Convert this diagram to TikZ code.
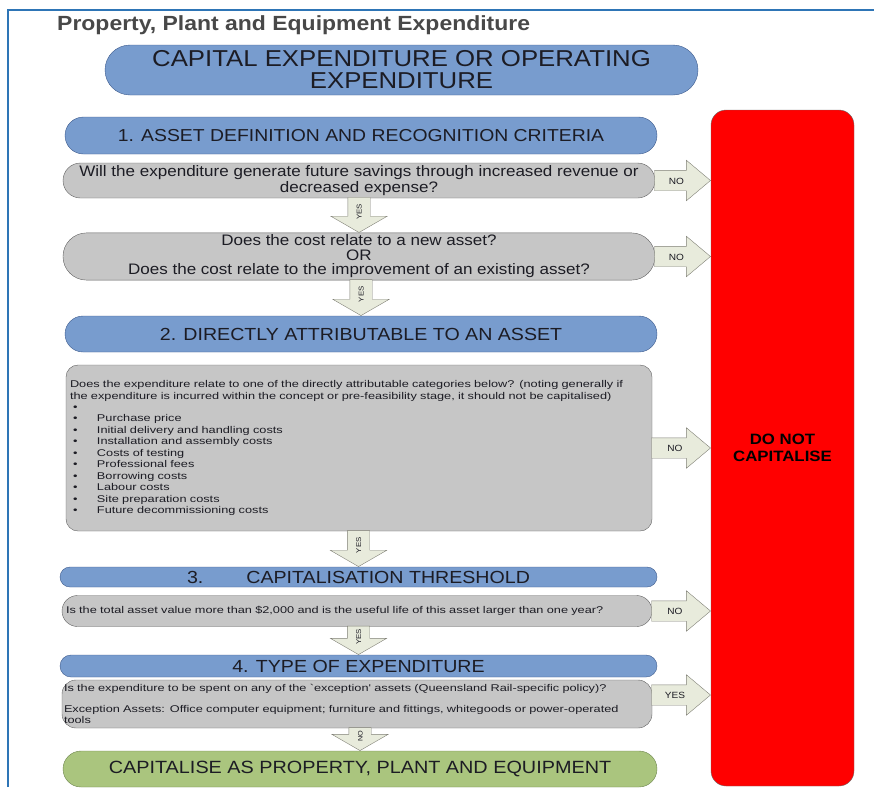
\documentclass[tikz,border=0pt]{standalone}
\usepackage{fontspec}
\setmainfont{Liberation Sans}[FakeStretch=1.12]
\newfontfamily\widefont{Liberation Sans}[FakeStretch=1.3]
\usetikzlibrary{shapes.arrows}

\definecolor{framecol}{RGB}{46,117,182}
\definecolor{titlecol}{RGB}{72,72,72}
\definecolor{inkcol}{RGB}{28,28,36}
\definecolor{capblue}{RGB}{120,156,206}
\definecolor{capedge}{RGB}{60,90,140}
\definecolor{qgrey}{RGB}{198,198,198}
\definecolor{qedge}{RGB}{96,96,96}
\definecolor{capgreen}{RGB}{170,197,126}
\definecolor{greenedge}{RGB}{108,132,78}
\definecolor{arrfill}{RGB}{232,235,220}
\definecolor{arredge}{RGB}{128,128,118}
\definecolor{stopred}{RGB}{255,0,0}
\definecolor{stopedge}{RGB}{110,110,110}

% one line of the cost list
\newcommand{\costitem}[1]{\hspace*{3pt}\makebox[24pt][l]{\textbullet}#1}

\tikzset{
  pill/.style={rectangle, rounded corners=#1, inner sep=2pt, align=center, text=inkcol},
  bluepill/.style={pill=#1, fill=capblue, draw=capedge, font=\fontsize{17.5}{20}\selectfont},
  greypill/.style={pill=#1, fill=qgrey, draw=qedge},
  greenpill/.style={pill=#1, fill=capgreen, draw=greenedge, font=\fontsize{17.7}{20}\selectfont},
  smalltext/.style={align=left, text=inkcol, font=\widefont\fontsize{9.8}{11.45}\selectfont},
  stopbox/.style={rectangle, rounded corners=15pt, fill=stopred, draw=stopedge, align=center,
    text=black, font=\bfseries\fontsize{15}{17}\selectfont},
  noarrow/.style={single arrow, draw=arredge, fill=arrfill, anchor=tip,
    single arrow head extend=10pt, single arrow tip angle=80, single arrow head indent=0pt,
    minimum width=40pt, inner xsep=1pt, inner ysep=6.5pt, text height=7pt, text depth=0pt,
    text=inkcol, font=\fontsize{9}{9}\selectfont},
  yesarrow/.style={single arrow, shape border rotate=180, rotate=90, draw=arredge, fill=arrfill,
    anchor=tip, single arrow head extend=17pt, single arrow tip angle=120,
    single arrow head indent=0pt, minimum width=56pt, inner xsep=1pt, inner ysep=8.5pt,
    text height=5pt, text depth=0pt, text=inkcol, font=\fontsize{7}{7}\selectfont},
}

\begin{document}
\begin{tikzpicture}[x=1pt, y=-1pt]
  \useasboundingbox (0,0) rectangle (874,787);

  %% page frame
  \draw[framecol, line width=1.6pt] (8,787) -- (8,10) -- (874,10);

  \node[anchor=base west, inner sep=0pt, text=titlecol, font=\bfseries\fontsize{20.5}{24}\selectfont] (title) at (57,30) {Property, Plant and Equipment Expenditure};

  \node[bluepill=25pt, minimum width=593pt, minimum height=50pt, font=\fontsize{23}{22}\selectfont] (top) at (401.5,70) {CAPITAL EXPENDITURE OR OPERATING\\EXPENDITURE};

  \node[stopbox, minimum width=143pt, minimum height=676pt] (stop) at (782.5,448) {DO NOT\\CAPITALISE};

  %% 1. asset definition
  \node[bluepill=18.5pt, minimum width=592pt, minimum height=37pt, font=\fontsize{17.3}{20}\selectfont] (step1) at (361,135.5) {1. ASSET DEFINITION AND RECOGNITION CRITERIA};
  \node[greypill=17.5pt, minimum width=592pt, minimum height=35pt, font=\fontsize{15.2}{16}\selectfont] (q1) at (359,180.5) {Will the expenditure generate future savings through increased revenue or\\decreased expense?};
  \node[greypill=23.5pt, minimum width=592pt, minimum height=47pt, font=\fontsize{15.2}{14.5}\selectfont] (q2) at (359,256.5) {Does the cost relate to a new asset?\\OR\\Does the cost relate to the improvement of an existing asset?};

  \node[noarrow, minimum height=56pt] (no1) at (q1.east -| stop.west) {NO};
  \node[noarrow, minimum height=56pt] (no2) at (q2.east -| stop.west) {NO};
  \node[yesarrow, minimum height=35pt] (yes1) at (q2.north) {YES};

  %% 2. directly attributable
  \node[bluepill=18pt, minimum width=592pt, minimum height=36pt] (step2) at (361,334) {2. DIRECTLY ATTRIBUTABLE TO AN ASSET};
  \node[yesarrow, minimum height=36pt] (yes2) at (step2.north) {YES};

  \node[rectangle, rounded corners=12pt, fill=qgrey, draw=qedge, minimum width=586pt, minimum height=166pt,
    text width=578pt, inner xsep=4pt, smalltext] (costs) at (359,448) {%
    Does the expenditure relate to one of the directly attributable categories below? (noting generally if\\
    the expenditure is incurred within the concept or pre-feasibility stage, it should not be capitalised)\\
    \costitem{}\\
    \costitem{Purchase price}\\
    \costitem{Initial delivery and handling costs}\\
    \costitem{Installation and assembly costs}\\
    \costitem{Costs of testing}\\
    \costitem{Professional fees}\\
    \costitem{Borrowing costs}\\
    \costitem{Labour costs}\\
    \costitem{Site preparation costs}\\
    \costitem{Future decommissioning costs}};
  \node[noarrow, minimum height=59pt] (no3) at (costs.east -| stop.west) {NO};

  %% 3. threshold
  \node[bluepill=10pt, minimum width=597pt, minimum height=20pt, inner ysep=0pt] (step3) at (358.5,577) {3.\hspace{43pt}CAPITALISATION THRESHOLD};
  \node[yesarrow, minimum height=36pt] (yes3) at (step3.north) {YES};
  \node[greypill=15.5pt, minimum width=590pt, minimum height=31pt, text width=582pt, inner xsep=4pt, smalltext] (q3) at (357,611) {Is the total asset value more than \$2,000 and is the useful life of this asset larger than one year?};
  \node[noarrow, minimum height=59pt] (no4) at (q3.east -| stop.west) {NO};

  %% 4. type of expenditure
  \node[bluepill=11pt, minimum width=597pt, minimum height=22pt, inner ysep=0pt] (step4) at (358.5,666) {4. TYPE OF EXPENDITURE};
  \node[yesarrow, minimum height=28.5pt] (yes4) at (step4.north) {YES};
  \node[rectangle, rounded corners=14pt, fill=qgrey, draw=qedge, minimum width=590pt, minimum height=48pt,
    text width=586pt, inner xsep=2pt, smalltext, font=\widefont\fontsize{9.8}{10.8}\selectfont] (q4) at (357,704) {%
    Is the expenditure to be spent on any of the `exception' assets (Queensland Rail-specific policy)?\\[10.8pt]
    Exception Assets: Office computer equipment; furniture and fittings, whitegoods or power-operated\\
    tools};
  \coordinate (q4mark) at ([yshift=9pt]q4.east);
  \node[noarrow, minimum height=59pt] (yes5) at (q4mark -| stop.west) {YES};

  \node[greenpill=18pt, minimum width=594pt, minimum height=36pt] (done) at (360,769) {CAPITALISE AS PROPERTY, PLANT AND EQUIPMENT};
  \node[yesarrow, minimum height=23pt, inner xsep=-3pt, font=\fontsize{6.5}{6.5}\selectfont] (no5) at (done.north) {NO};
\end{tikzpicture}
\end{document}
